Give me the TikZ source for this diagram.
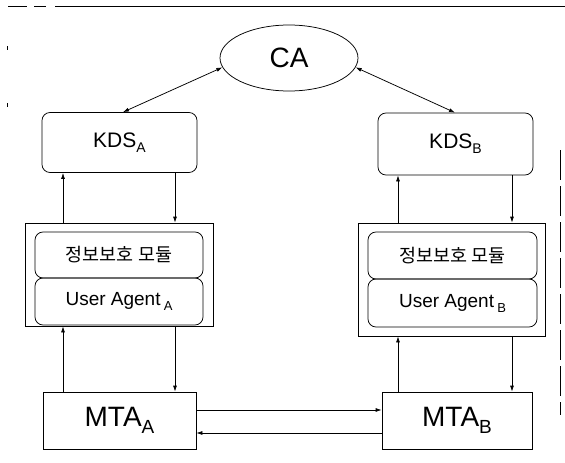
\documentclass[tikz,border=0pt]{standalone}
\usepackage{fontspec}
\setmainfont{Liberation Sans}
\newfontfamily\kofont{Noto Sans CJK KR}
\usetikzlibrary{shapes.geometric,arrows.meta}
\begin{document}
\begin{tikzpicture}[x=1pt,y=-1pt,
  line width=0.75pt,
  rbox/.style={draw,rounded corners=8pt,inner sep=0pt,minimum width=#1},
  sbox/.style={draw,inner sep=0pt},
  arr/.style={-{Latex[length=6pt,width=4pt]}},
  darr/.style={{Latex[length=6pt,width=4pt]}-{Latex[length=6pt,width=4pt]}},
  frame/.style={line width=0.6pt}]
\useasboundingbox (0,0) rectangle (565,463);
% scan frame marks
\draw[frame] (8,6) -- (27,6) (34,6) -- (46,6) (55,6) -- (565,6);
\draw[frame] (7,46) -- (7,50) (7,103) -- (7,107);
\draw[frame,dashed,dash pattern=on 30pt off 6pt] (560,150) -- (560,415);
% nodes
\node[draw,ellipse,minimum width=138pt,minimum height=66pt,inner sep=0pt] (CA) at (289,58) {\fontsize{28}{30}\selectfont CA};
\node[rbox=155pt,minimum height=60pt] (KDSA) at (119.5,142.5) {\fontsize{21}{23}\selectfont KDS\raisebox{-5pt}{\fontsize{14}{16}\selectfont A}};
\node[rbox=155pt,minimum height=62pt] (KDSB) at (455.5,144) {\fontsize{21}{23}\selectfont KDS\raisebox{-5pt}{\fontsize{14}{16}\selectfont B}};
\node[sbox,minimum width=188pt,minimum height=103pt] (BA) at (119,274.5) {};
\node[rbox=168pt,minimum height=46pt] (SA) at (119,255) {\kofont\fontsize{18.5}{20}\selectfont 정보보호 모듈};
\node[rbox=168pt,minimum height=47pt] (UA) at (119,301.5) {\fontsize{19}{21}\selectfont User Agent\,\raisebox{-5pt}{\fontsize{13}{15}\selectfont A}};
\node[sbox,minimum width=187pt,minimum height=113pt] (BB) at (451.5,279.5) {};
\node[rbox=169pt,minimum height=47pt] (SB) at (452.5,255.5) {\kofont\fontsize{18.5}{20}\selectfont 정보보호 모듈};
\node[rbox=169pt,minimum height=48pt] (UB) at (452.5,303) {\fontsize{19}{21}\selectfont User Agent\,\raisebox{-5pt}{\fontsize{13}{15}\selectfont B}};
\node[sbox,minimum width=153pt,minimum height=57pt] (MA) at (119.5,420.5) {\fontsize{28}{30}\selectfont MTA\raisebox{-7pt}{\fontsize{19}{21}\selectfont A}};
\node[sbox,minimum width=150pt,minimum height=57pt] (MB) at (457,420.5) {\fontsize{28}{30}\selectfont MTA\raisebox{-7pt}{\fontsize{19}{21}\selectfont B}};
% column / row helpers
\coordinate (c1) at (63,0);
\coordinate (c2) at (175,0);
\coordinate (c3) at (398,0);
\coordinate (c4) at (512,0);
\coordinate (c5) at (123,0);
\coordinate (c6) at (455,0);
\coordinate (r1) at (0,410);
\coordinate (r2) at (0,433);
% connectors
\draw[darr] (CA.188) -- (KDSA.north -| c5);
\draw[darr] (CA.-8) -- (KDSB.north -| c6);
\draw[arr] (BA.north -| c1) -- (KDSA.south -| c1);
\draw[arr] (KDSA.south -| c2) -- (BA.north -| c2);
\draw[arr] (BB.north -| c3) -- (KDSB.south -| c3);
\draw[arr] (KDSB.south -| c4) -- (BB.north -| c4);
\draw[arr] (MA.north -| c1) -- (BA.south -| c1);
\draw[arr] (BA.south -| c2) -- (MA.north -| c2);
\draw[arr] (MB.north -| c3) -- (BB.south -| c3);
\draw[arr] (BB.south -| c4) -- (MB.north -| c4);
\draw[arr] (MA.east |- r1) -- (MB.west |- r1);
\draw[arr] (MB.west |- r2) -- (MA.east |- r2);
\end{tikzpicture}
\end{document}
